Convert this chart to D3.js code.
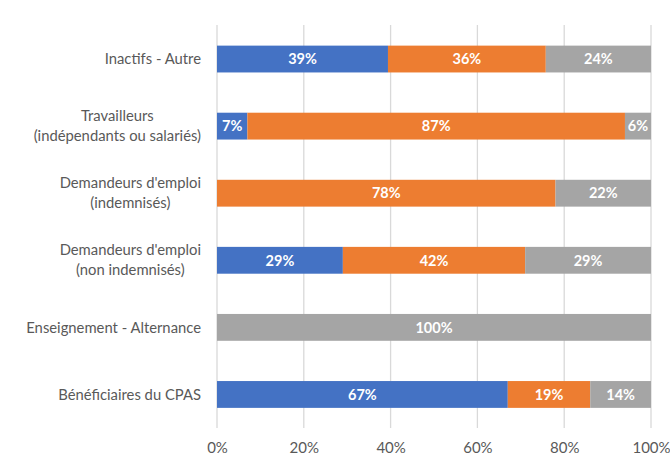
<!DOCTYPE html>
<html><head><meta charset="utf-8">
<script src="https://cdn.jsdelivr.net/npm/d3@7"></script>
<style>
body{margin:0;background:#fff;}
svg{display:block;font-family:Lato,"Open Sans",sans-serif;}
</style></head>
<body><div id="chart"></div>
<script>
const categories = [
  ["Inactifs - Autre"],
  ["Travailleurs", "(indépendants ou salariés)"],
  ["Demandeurs d'emploi", "(indemnisés)"],
  ["Demandeurs d'emploi", "(non indemnisés)"],
  ["Enseignement - Alternance"],
  ["Bénéficiaires du CPAS"]
];
const seriesNames = ["Série 1", "Série 2", "Série 3"];
const series1 = [39, 7, 0, 29, 0, 67];
const series2 = [36, 87, 78, 42, 0, 19];
const series3 = [24, 6, 22, 29, 100, 14];
const xTicks = [0, 0.2, 0.4, 0.6, 0.8, 1];
const colors = ["#4472C4", "#ED7D31", "#A5A5A5"];

const W = 670, H = 456;
const svg = d3.select("#chart").append("svg").attr("width", W).attr("height", H);

const rows = categories.map((c, i) => ({
  id: i, s0: series1[i], s1: series2[i], s2: series3[i]
}));
const keys = ["s0", "s1", "s2"];
const stacked = d3.stack().keys(keys).offset(d3.stackOffsetExpand)(rows);

const x = d3.scaleLinear().domain([0, 1]).range([217, 651]);
const y = d3.scaleBand().domain(rows.map(d => d.id)).range([25.5, 428]).paddingInner(0.6).paddingOuter(0.3);

// gridlines
svg.append("g").selectAll("line").data(xTicks).join("line")
  .attr("x1", d => x(d)).attr("x2", d => x(d))
  .attr("y1", 25).attr("y2", 428)
  .attr("stroke", "#D9D9D9").attr("stroke-width", 1.3);

// bars
const layers = svg.append("g").selectAll("g").data(stacked).join("g")
  .attr("fill", (d, i) => colors[i]);
layers.selectAll("rect").data(d => d.map(p => ({p, key: d.key}))).join("rect")
  .attr("x", d => x(d.p[0]))
  .attr("width", d => x(d.p[1]) - x(d.p[0]))
  .attr("y", d => y(d.p.data.id))
  .attr("height", y.bandwidth());

// data labels
const labG = svg.append("g");
stacked.forEach((layer, li) => {
  layer.forEach(p => {
    const v = p.data[layer.key];
    if (!v) return;
    labG.append("text")
      .attr("x", (x(p[0]) + x(p[1])) / 2)
      .attr("y", y(p.data.id) + y.bandwidth() / 2)
      .attr("dy", "0.36em")
      .attr("text-anchor", "middle")
      .attr("fill", "#fff")
      .attr("font-weight", "bold")
      .attr("font-size", 14.5)
      .text(v + "%");
  });
});

// category labels
const catG = svg.append("g");
categories.forEach((lines, i) => {
  const cy = y(i) + y.bandwidth() / 2;
  const lh = 20;
  const t = catG.append("text")
    .attr("fill", "#595959").attr("font-size", 14.8)
    .attr("text-anchor", "middle");
  lines.forEach((ln, j) => {
    t.append("tspan").attr("y", cy + (j - (lines.length - 1) / 2) * lh).attr("dy", "0.35em").text(ln);
  });
  const widths = [];
  t.selectAll("tspan").each(function(){ widths.push(this.getComputedTextLength()); });
  const maxW = d3.max(widths);
  const cx = 201 - maxW / 2;
  t.selectAll("tspan").attr("x", cx);
});

// x axis labels
const xAxis = d3.axisBottom(x).tickValues(xTicks).tickFormat(d3.format(".0%")).tickSize(0).tickPadding(0);
const ax = svg.append("g").attr("transform", "translate(0,442)").call(xAxis);
ax.select(".domain").remove();
ax.selectAll("text").attr("fill", "#595959").attr("font-size", 15).attr("font-family", "Lato,'Open Sans',sans-serif");
</script>
</body></html>
